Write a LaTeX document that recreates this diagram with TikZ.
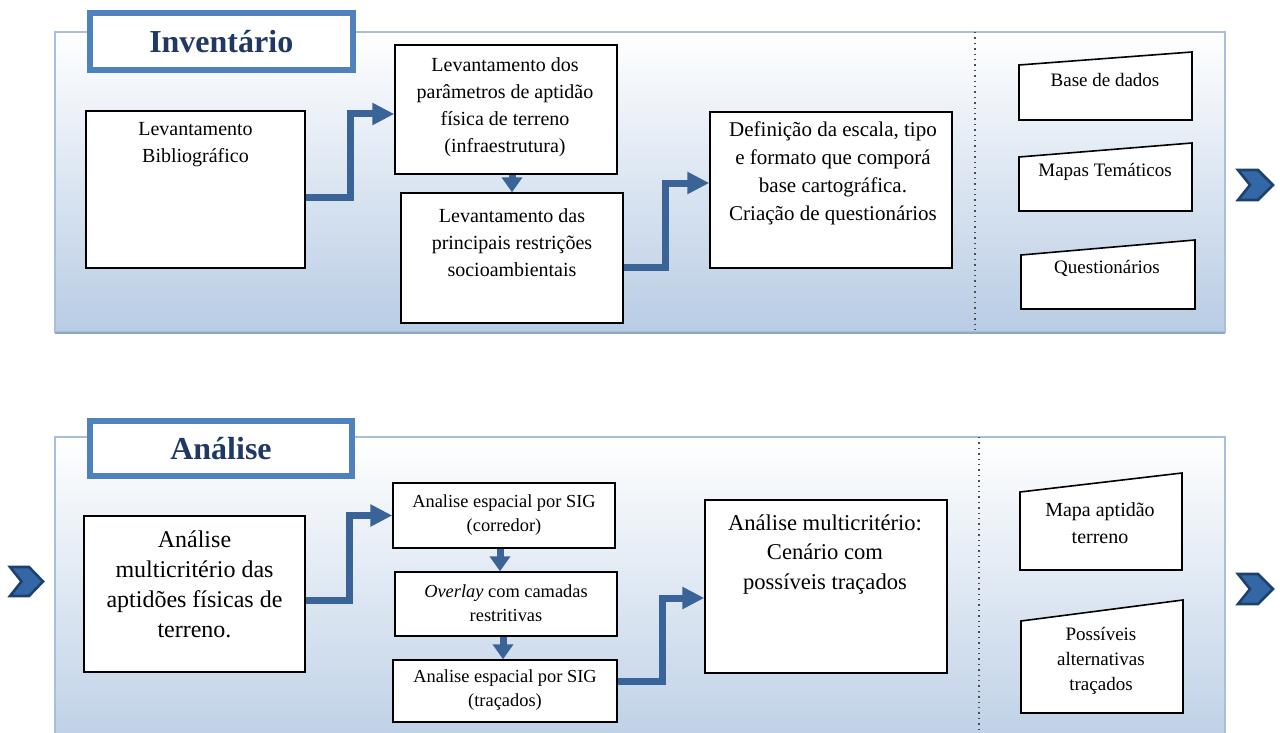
\documentclass[tikz,border=0pt]{standalone}
\usepackage{fontspec}
\setmainfont{Liberation Serif}
\usetikzlibrary{arrows.meta}
\definecolor{panelblue}{HTML}{B8CCE4}
\definecolor{panelline}{HTML}{A7BFDD}
\definecolor{panelshadow}{HTML}{8FA8C6}
\definecolor{titleblue}{HTML}{4F81BD}
\definecolor{titletext}{HTML}{1F3864}
\definecolor{flowblue}{HTML}{3A6397}
\definecolor{chevfill}{HTML}{3367A6}
\definecolor{chevdark}{HTML}{1D416F}
\begin{document}
\begin{tikzpicture}[x=0.5pt,y=-0.5pt,
  box/.style={draw=black,line width=0.7pt,fill=white,inner sep=0pt},
  txt/.style={align=center,inner sep=0pt,text=black},
  fa/.style={font=\fontsize{10}{13.5}\selectfont},
  fb/.style={font=\fontsize{10.5}{14}\selectfont},
  fc/.style={font=\fontsize{12}{15}\selectfont},
  fd/.style={font=\fontsize{9.2}{12}\selectfont},
  fe/.style={font=\fontsize{11.3}{14.75}\selectfont},
  ff/.style={font=\fontsize{9.5}{12.5}\selectfont},
  flow/.style={draw=flowblue,line width=3.5pt,-{Triangle[length=11pt,width=10.5pt]}},
  down/.style={draw=flowblue,line width=3.5pt,-{Triangle[length=7.5pt,width=10pt]}},
  titlebox/.style={draw=titleblue,line width=3pt,fill=white,inner sep=0pt,
    text=titletext,font=\bfseries\fontsize{16}{19}\selectfont},
  outshape/.style={draw=black,line width=0.8pt,fill=white},
  panel/.style={top color=white,bottom color=panelblue,draw=panelline,line width=0.8pt},
  sepline/.style={draw=black!70,dotted,line width=0.7pt},
  chevron/.style={fill=chevfill,draw=chevdark,line width=1.3pt,line join=miter}]

\useasboundingbox (0,0) rectangle (1280,733);
\clip (0,0) rectangle (1280,733);

% ---------------- panels ----------------
\path[panel] (55,32) rectangle (1225,332);
\draw[panelshadow,line width=1pt] (55,332.5) -- (1225,332.5);
\path[sepline] (975,32) -- (975,332);

\path[panel] (55,437) rectangle (1225,770);
\path[sepline] (979,437) -- (979,733);

% ---------------- titles ----------------
\node[titlebox,minimum width=131.25pt,minimum height=28.25pt] (T1) at (221.25,41.75) {Inventário};
\node[titlebox,minimum width=131pt,minimum height=27.5pt] (T2) at (221,448.5) {Análise};

% ---------------- top boxes ----------------
\node[box,minimum width=109.5pt,minimum height=78.5pt] (B1) at (195.5,189.5) {};
\node[txt,fa] (B1t) at (195.5,144.5) {Levantamento\\Bibliográfico};

\node[box,minimum width=111pt,minimum height=64.5pt] (B2) at (506,109.5) {};
\node[txt,fa] (B2t) at (505,107.5) {Levantamento dos\\parâmetros de aptidão\\física de terreno\\(infraestrutura)};

\node[box,minimum width=111pt,minimum height=65pt] (B3) at (512,258) {};
\node[txt,fa] (B3t) at (512,242.5) {Levantamento das\\principais restrições\\socioambientais};

\node[box,minimum width=121pt,minimum height=78pt] (B4) at (831,190) {};
\node[txt,fb] (B4t) at (833,173.5) {Definição da escala, tipo\\e formato que comporá\\base cartográfica.\\Criação de questionários};

% ---------------- bottom boxes ----------------
\node[box,minimum width=110.5pt,minimum height=78pt] (B5) at (194.5,594) {};
\node[txt,fc] (B5t) at (194.5,584) {Análise\\multicritério das\\aptidões físicas de\\terreno.};

\node[box,minimum width=111pt,minimum height=32.5pt] (B6) at (504,515.5) {};
\node[txt,fd] (B6t) at (504,515) {Analise espacial por SIG\\(corredor)};

\node[box,minimum width=111pt,minimum height=32pt] (B7) at (506,604) {};
\node[txt,fd] (B7t) at (506,603.5) {\textit{Overlay} com camadas\\restritivas};

\node[box,minimum width=112pt,minimum height=31pt] (B8) at (505,691) {};
\node[txt,fd] (B8t) at (505,690) {Analise espacial por SIG\\(traçados)};

\node[box,minimum width=121pt,minimum height=86.5pt] (B9) at (826,586.5) {};
\node[txt,fe] (B9t) at (825,554.5) {Análise multicritério:\\Cenário com\\possíveis traçados};

% ---------------- connectors ----------------
\draw[flow] ([yshift=-3.75pt]B1.east) -- ++(45,0) |- ([yshift=-2.25pt]B2.west);
\draw[down] (B2.south -| B3.north) -- (B3.north);
\draw[flow] ([yshift=-4.5pt]B3.east) -- ++(42,0) |- ([yshift=3.5pt]B4.west);

\draw[flow] ([yshift=-3pt]B5.east) -- ++(44,0) |- (B6.west);
\draw[down] ([xshift=-2pt]B6.south) -- ([xshift=-2pt]B6.south |- B7.north);
\draw[down] ([xshift=-1.5pt]B7.south) -- ([xshift=-1.5pt]B7.south |- B8.north);
\draw[flow] ([yshift=5pt]B8.east) -- ++(45,0) |- ([yshift=-5.75pt]B9.west);

% ---------------- outputs ----------------
\path[outshape] (1019,65) -- (1192,52) -- (1192,120) -- (1019,120) -- cycle;
\node[txt,ff] (O1) at (1105,80) {Base de dados};
\path[outshape] (1019,157) -- (1192,143) -- (1192,211) -- (1019,211) -- cycle;
\node[txt,ff] (O2) at (1105,172) {Mapas Temáticos};
\path[outshape] (1021,255) -- (1195,240) -- (1195,309) -- (1021,309) -- cycle;
\node[txt,ff] (O3) at (1107,268) {Questionários};

\path[outshape] (1020,492) -- (1182,473) -- (1182,570) -- (1020,570) -- cycle;
\node[txt,ff,font=\fontsize{10}{13.5}\selectfont] (O4) at (1100,523.5) {Mapa aptidão\\terreno};
\path[outshape] (1021,621) -- (1183,600) -- (1183,713) -- (1021,713) -- cycle;
\node[txt,ff] (O5) at (1101,661) {Possíveis\\alternativas\\traçados};

% ---------------- chevrons ----------------
\path[chevron] (1238,170) -- ++(20,0) -- ++(15,15) -- ++(-15,15) -- ++(-20,0) -- ++(12,-15) -- cycle;
\path[chevron] (1238,574) -- ++(20,0) -- ++(15,15) -- ++(-15,15) -- ++(-20,0) -- ++(12,-15) -- cycle;
\path[chevron] (10,567) -- ++(19,0) -- ++(14,14.5) -- ++(-14,14.5) -- ++(-19,0) -- ++(11.5,-14.5) -- cycle;
\end{tikzpicture}
\end{document}
